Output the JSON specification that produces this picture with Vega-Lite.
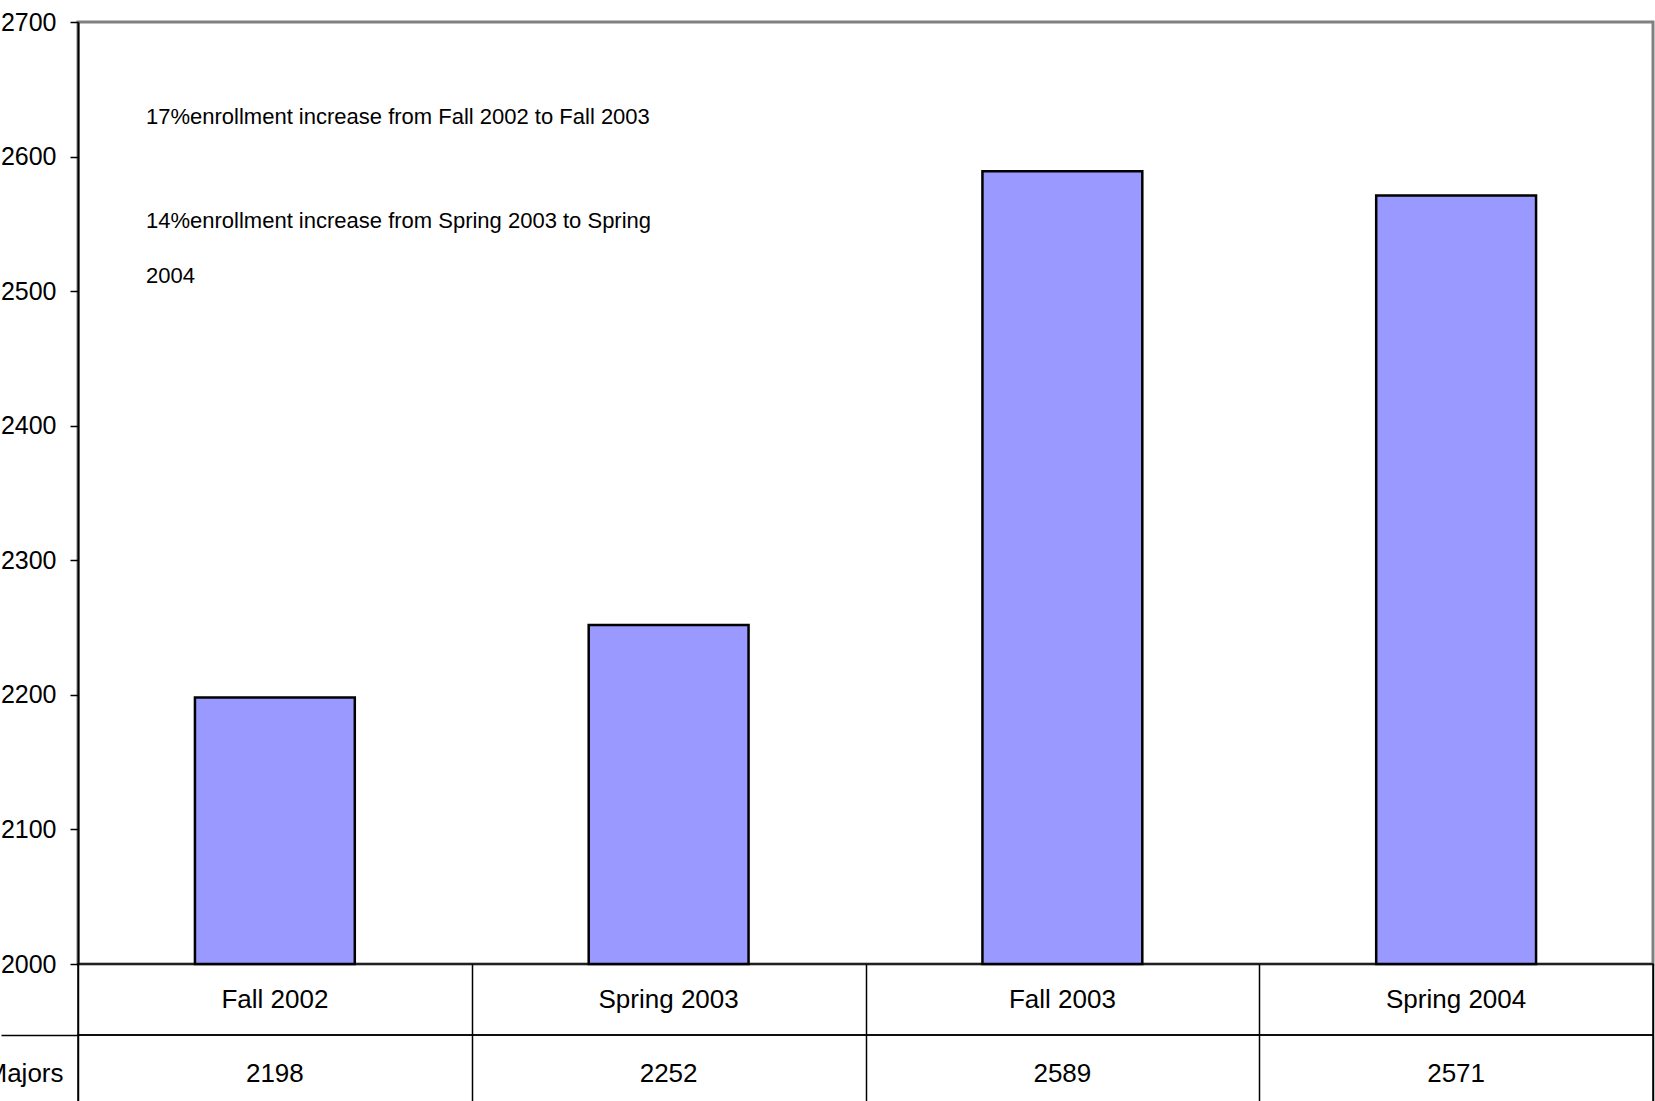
{
  "$schema": "https://vega.github.io/schema/vega-lite/v6.json",
  "background": "white",
  "padding": {"left": -16, "top": 8, "right": 3, "bottom": 0},
  "spacing": 0,
  "bounds": "flush",
  "data": {"values": [
    {"term": "Fall 2002", "majors": 2198},
    {"term": "Spring 2003", "majors": 2252},
    {"term": "Fall 2003", "majors": 2589},
    {"term": "Spring 2004", "majors": 2571}
  ]},
  "config": {
    "font": "Liberation Sans Narrow, Liberation Sans, Arial, sans-serif",
    "concat": {"spacing": 0},
    "axis": {"labelFont": "Liberation Sans Narrow, Liberation Sans, Arial, sans-serif", "labelColor": "black", "domainColor": "black", "tickColor": "black"},
    "text": {"font": "Liberation Sans Narrow, Liberation Sans, Arial, sans-serif", "color": "black"}
  },
  "vconcat": [
    {
      "width": 1575,
      "height": 942,
      "view": {"stroke": "#808080", "strokeWidth": 3},
      "layer": [
        {
          "mark": {"type": "bar", "fill": "#9999FF", "stroke": "black", "strokeWidth": 2.5, "width": {"band": 0.406}},
          "encoding": {
            "x": {"field": "term", "type": "nominal", "sort": null, "scale": {"paddingInner": 0, "paddingOuter": 0}, "axis": null},
            "y": {"field": "majors", "type": "quantitative", "scale": {"domain": [2000, 2700], "nice": false, "zero": false},
              "axis": {"title": null, "grid": false, "tickCount": 7, "format": "d", "domainWidth": 2, "tickSize": 8, "tickWidth": 1.5, "labelPadding": 14, "labelFontSize": 25}},
            "y2": {"datum": 2000}
          }
        },
        {
          "data": {"values": [
            {"note": "17%enrollment increase from Fall 2002 to Fall 2003", "term": "Fall 2002", "pos": 2624},
            {"note": ["14%enrollment increase from Spring 2003 to Spring", "2004"], "term": "Fall 2002", "pos": 2547}
          ]},
          "mark": {"type": "text", "align": "left", "baseline": "alphabetic", "fontSize": 22, "dx": 68, "lineHeight": 55},
          "encoding": {
            "x": {"field": "term", "type": "nominal", "sort": null, "bandPosition": 0},
            "y": {"field": "pos", "type": "quantitative"},
            "text": {"field": "note"}
          }
        }
      ]
    },
    {
      "width": 1575,
      "height": 71,
      "view": {"stroke": "black", "strokeWidth": 1.5},
      "mark": {"type": "text", "fontSize": 26, "baseline": "middle"},
      "encoding": {
        "x": {"field": "term", "type": "nominal", "sort": null, "scale": {"paddingInner": 0, "paddingOuter": 0},
          "axis": {"title": null, "grid": true, "tickBand": "extent", "gridColor": "black", "gridWidth": 1.5, "gridOpacity": 1, "labels": false, "ticks": false, "domain": false}},
        "text": {"field": "term"}
      }
    },
    {
      "width": 1575,
      "height": 67,
      "view": {"stroke": "black", "strokeWidth": 1.5},
      "mark": {"type": "text", "fontSize": 26, "baseline": "middle", "dy": 5},
      "encoding": {
        "x": {"field": "term", "type": "nominal", "sort": null, "scale": {"paddingInner": 0, "paddingOuter": 0},
          "axis": {"title": null, "grid": true, "tickBand": "extent", "gridColor": "black", "gridWidth": 1.5, "gridOpacity": 1, "labels": false, "ticks": false, "domain": false}},
        "y": {"datum": "Majors", "type": "nominal", "scale": {"type": "band", "paddingInner": 0, "paddingOuter": 0},
          "axis": {"title": null, "tickBand": "extent", "tickSize": 77, "tickWidth": 1.5, "domain": false, "labelFontSize": 26, "labelPadding": -62, "labelOffset": 5}},
        "text": {"field": "majors"}
      }
    }
  ]
}
